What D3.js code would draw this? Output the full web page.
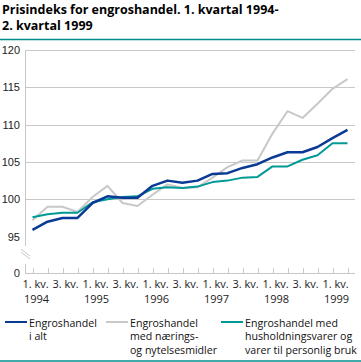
<!DOCTYPE html>
<html>
<head>
  <meta charset="utf-8">
  <title>Prisindeks for engroshandel</title>
  <script src="https://d3js.org/d3.v7.min.js"></script>
  <style>
    body { margin: 0; background: #fff; }
    svg { display: block; font-family: "Open Sans", "Noto Sans", sans-serif; }
    .title { font-weight: bold; font-size: 12.5px; fill: #000; }
    .tick text { font-size: 11px; fill: #222; }
    .grid { stroke: #c8c8c8; stroke-width: 1; }
    .line { fill: none; stroke-linejoin: round; }
    .legend text { font-size: 10.6px; fill: #111; }
  </style>
</head>
<body>
  <script>
    // quarters 1994 Q1 .. 1999 Q2
    const quarters = ["1994K1","1994K2","1994K3","1994K4","1995K1","1995K2","1995K3","1995K4",
      "1996K1","1996K2","1996K3","1996K4","1997K1","1997K2","1997K3","1997K4",
      "1998K1","1998K2","1998K3","1998K4","1999K1","1999K2"];
    const totalt = [95.9, 97.0, 97.5, 97.5, 99.5, 100.4, 100.2, 100.2, 101.8, 102.5, 102.2, 102.5,
      103.4, 103.5, 104.2, 104.7, 105.6, 106.3, 106.3, 107.0, 108.2, 109.3];
    const naering = [97.2, 99.0, 99.0, 98.3, 100.3, 101.8, 99.5, 99.1, 100.6, 102.0, 101.5, 101.6,
      102.9, 104.3, 105.2, 105.2, 108.8, 111.8, 110.9, 112.8, 114.8, 116.1];
    const husholdning = [97.6, 98.0, 98.2, 98.2, 99.6, 100.0, 100.3, 100.4, 101.4, 101.6, 101.5, 101.7,
      102.3, 102.5, 102.9, 103.0, 104.4, 104.4, 105.3, 105.9, 107.5, 107.5];
    const yTicks = [95, 100, 105, 110, 115, 120];
    const seriesNames = [["Engroshandel", "i alt"], ["Engroshandel", "med nærings-", "og nytelsesmidler"],
      ["Engroshandel med", "husholdningsvarer og", "varer til personlig bruk"]];
    const colors = ["#0a3a94", "#c8c8c8", "#009a96"];

    const width = 361, height = 362;
    const svg = d3.select("body").append("svg")
        .attr("width", width).attr("height", height);

    // title
    svg.append("text").attr("class", "title").attr("x", 2).attr("y", 14)
        .text("Prisindeks for engroshandel. 1. kvartal 1994-");
    svg.append("text").attr("class", "title").attr("x", 2).attr("y", 30)
        .text("2. kvartal 1999");
    svg.append("line").attr("x1", 0).attr("x2", width).attr("y1", 39.5).attr("y2", 39.5)
        .attr("stroke", "#008c8c").attr("stroke-width", 1.5);
    svg.append("line").attr("x1", 0).attr("x2", width).attr("y1", 361).attr("y2", 361)
        .attr("stroke", "#008c8c").attr("stroke-width", 1.5);

    const x = d3.scaleBand().domain(quarters).range([25, 355]);
    const xc = d => x(d) + x.bandwidth() / 2;
    const y = d3.scaleLinear().domain([95, 120]).range([236.6, 50]);
    const yZero = 273.3;

    // gridlines
    svg.append("g").selectAll("line").data(yTicks.filter(d => d !== 95)).join("line")
        .attr("class", "grid")
        .attr("x1", 25).attr("x2", 355)
        .attr("y1", d => Math.round(y(d)) + 0.5).attr("y2", d => Math.round(y(d)) + 0.5);

    // y axis
    const yAxis = svg.append("g").attr("transform", "translate(25,0)")
        .call(d3.axisLeft(y).tickValues(yTicks).tickSize(0).tickPadding(5));
    yAxis.select(".domain").remove();
    yAxis.selectAll("text").attr("fill", "#222");
    svg.append("line").attr("class", "grid").attr("x1", 25.5).attr("x2", 25.5)
        .attr("y1", 50).attr("y2", 246);
    svg.append("line").attr("class", "grid").attr("x1", 25.5).attr("x2", 25.5)
        .attr("y1", 264).attr("y2", yZero);
    // axis break
    [0, 3].forEach(o => {
      svg.append("line").attr("stroke", "#c8c8c8").attr("stroke-width", 1)
          .attr("x1", 21).attr("y1", 249 + o).attr("x2", 30).attr("y2", 256 + o);
    });
    svg.append("text").attr("x", 20).attr("y", yZero + 4).attr("text-anchor", "end")
        .attr("font-size", 11).attr("fill", "#222").text("0");

    // x axis
    svg.append("line").attr("class", "grid").attr("x1", 25).attr("x2", 355)
        .attr("y1", Math.round(yZero) + 0.5).attr("y2", Math.round(yZero) + 0.5);
    svg.append("g").selectAll("line").data(quarters).join("line")
        .attr("class", "grid")
        .attr("x1", d => Math.round(xc(d)) + 0.5).attr("x2", d => Math.round(xc(d)) + 0.5)
        .attr("y1", Math.round(yZero) - 5).attr("y2", Math.round(yZero));
    const labelQ = quarters.filter((d, i) => i % 2 === 0);
    const xl = svg.append("g").attr("font-size", 11).attr("fill", "#222").attr("text-anchor", "middle");
    xl.selectAll("text.q").data(labelQ).join("text").attr("class", "q")
        .attr("x", d => xc(d) + 3).attr("y", 288)
        .text(d => d.slice(5) + ". kv.");
    xl.selectAll("text.yr").data(labelQ.filter(d => d.endsWith("1"))).join("text").attr("class", "yr")
        .attr("x", d => xc(d) + 4).attr("y", 303)
        .text(d => d.slice(0, 4));

    // lines
    const line = d3.line().x((d, i) => xc(quarters[i])).y(d => y(d));
    const series = [totalt, naering, husholdning];
    const widths = [2.5, 2, 2];
    [1, 2, 0].forEach(k => {
      svg.append("path").attr("class", "line")
          .attr("d", line(series[k]))
          .attr("stroke", colors[k]).attr("stroke-width", widths[k]);
    });

    // legend
    const legX = [5, 106, 221];
    const leg = svg.append("g").attr("class", "legend");
    seriesNames.forEach((names, k) => {
      leg.append("line").attr("x1", legX[k]).attr("x2", legX[k] + 22)
          .attr("y1", 322).attr("y2", 322)
          .attr("stroke", colors[k]).attr("stroke-width", 2);
      names.forEach((t, j) => {
        leg.append("text").attr("x", legX[k] + 24).attr("y", 326.5 + j * 13.6).text(t);
      });
    });
  </script>
</body>
</html>
